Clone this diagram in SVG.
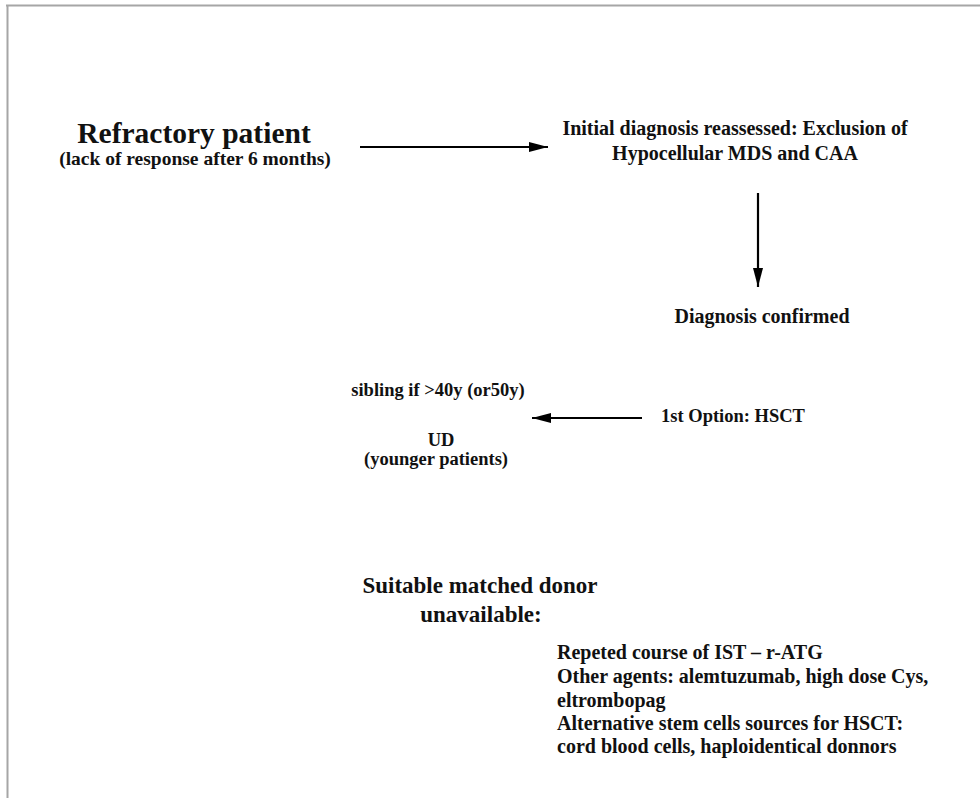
<svg xmlns="http://www.w3.org/2000/svg" width="980" height="798" viewBox="0 0 980 798">
<defs>
<marker id="ah" markerWidth="19" markerHeight="10" refX="19" refY="5" orient="auto" markerUnits="userSpaceOnUse">
<path d="M0,0 L19,5 L0,10 Z" fill="#000"/>
</marker>
<style>
text{font-family:"Liberation Serif","Times New Roman",serif;font-weight:bold;fill:#111;}
.t{font-size:20px;}
.s{font-size:18.5px;}
.big{font-size:29.5px;}
.sub{font-size:19.5px;}
.mid{font-size:23px;}
.c{text-anchor:middle;}
.conn line{stroke:#000;stroke-width:2.2;marker-end:url(#ah);}
</style>
</defs>
<rect width="980" height="798" fill="#fff"/>
<line x1="6" y1="5.5" x2="980" y2="5.5" stroke="#a6a6a6" stroke-width="2"/>
<line x1="7.5" y1="5" x2="7.5" y2="798" stroke="#a6a6a6" stroke-width="2"/>
<g id="refractory">
<text class="big c" x="194" y="143">Refractory patient</text>
<text class="sub c" x="195" y="165">(lack of response after 6 months)</text>
</g>
<g id="initial">
<text class="t c" x="735" y="135">Initial diagnosis reassessed: Exclusion of</text>
<text class="t c" x="735" y="160">Hypocellular MDS and CAA</text>
</g>
<g id="confirmed">
<text class="t c" x="762" y="323">Diagnosis confirmed</text>
</g>
<g id="hsct">
<text class="s c" x="733" y="422">1st Option: HSCT</text>
</g>
<g id="donors">
<text class="s c" x="438" y="396">sibling if &gt;40y (or50y)</text>
<text class="s c" x="441" y="446">UD</text>
<text class="s c" x="436" y="465">(younger patients)</text>
</g>
<g id="unavailable">
<text class="mid c" x="480" y="593">Suitable matched donor</text>
<text class="mid c" x="481" y="622">unavailable:</text>
</g>
<g id="options">
<text class="t" x="557" y="659">Repeted course of IST – r-ATG</text>
<text class="t" x="557" y="683">Other agents: alemtuzumab, high dose Cys,</text>
<text class="t" x="557" y="707">eltrombopag</text>
<text class="t" x="557" y="730">Alternative stem cells sources for HSCT:</text>
<text class="t" x="557" y="753">cord blood cells, haploidentical donnors</text>
</g>
<g id="connectors" class="conn">
<line x1="360" y1="147" x2="548" y2="147"/>
<line x1="758" y1="193" x2="758" y2="287"/>
<line x1="642" y1="418" x2="532" y2="418"/>
</g>
</svg>
